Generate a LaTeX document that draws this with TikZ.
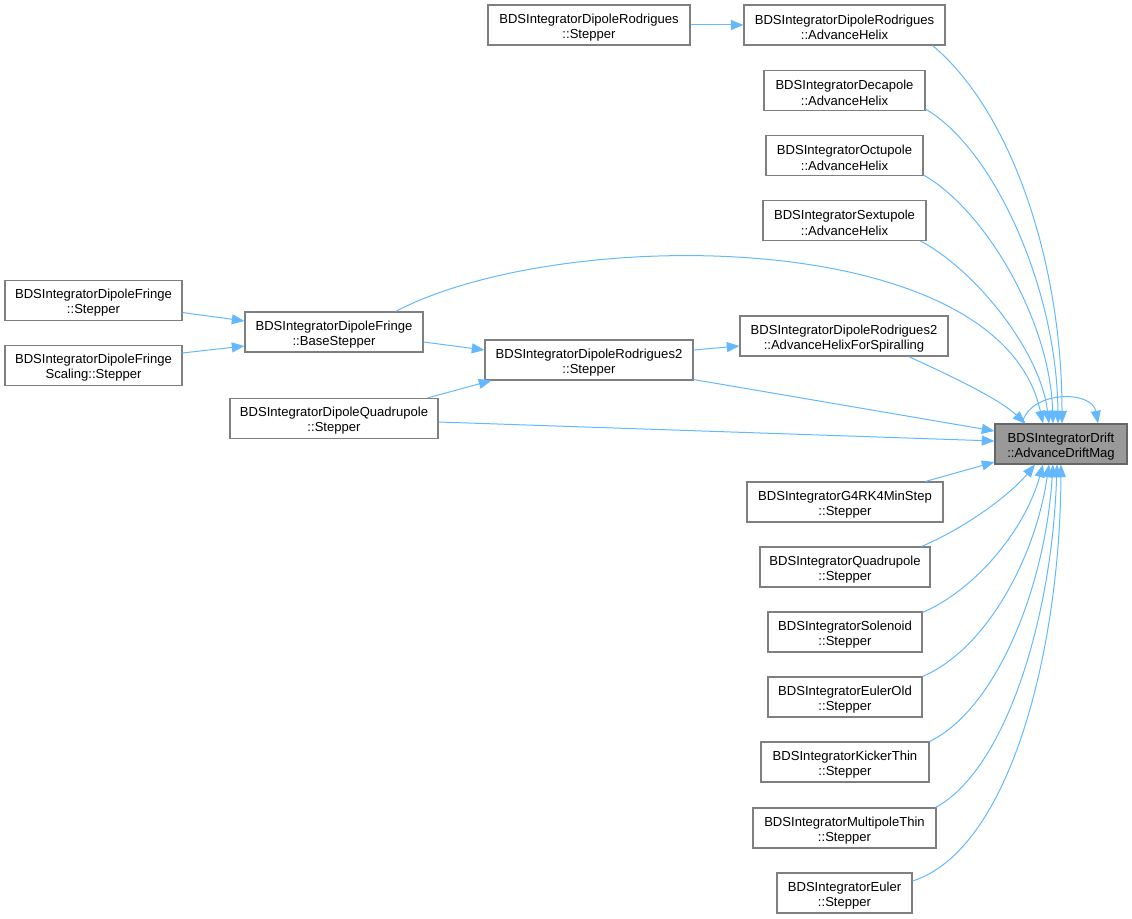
\documentclass[tikz,border=0pt]{standalone}
\usepackage{fontspec}
\setmainfont{Liberation Sans}
\usetikzlibrary{arrows.meta,calc}
\definecolor{edgeblue}{HTML}{63B8FF}
\definecolor{nodeborder}{HTML}{7F7F7F}
\definecolor{mainfill}{HTML}{999999}
\definecolor{mainborder}{HTML}{666666}
\newcommand{\twolines}[2]{\rule{0pt}{10.6pt}#1\\#2}
\begin{document}
\begin{tikzpicture}[x=0.75pt,y=-0.75pt,
  base/.style={line width=0.8pt, minimum height=30pt, inner sep=0pt, align=center,
    font=\fontsize{9.8}{11.3}\selectfont},
  box/.style={base, draw=nodeborder, fill=white, minimum width=#1*0.75pt},
  mainbox/.style={base, draw=mainborder, fill=mainfill, minimum width=#1*0.75pt},
  ed/.style={draw=edgeblue, line width=0.75pt, -{Triangle[length=9.5pt,width=7.5pt]}}]
\useasboundingbox (0,0) rectangle (1132,919);

\node[box=202] (drs) at (589,25) {\twolines{BDSIntegratorDipoleRodrigues}{::Stepper}};
\node[box=201] (drah) at (844.5,25) {\twolines{BDSIntegratorDipoleRodrigues}{::AdvanceHelix}};
\node[box=161] (deca) at (844.5,90.5) {\twolines{BDSIntegratorDecapole}{::AdvanceHelix}};
\node[box=157] (oct) at (844.5,155.5) {\twolines{BDSIntegratorOctupole}{::AdvanceHelix}};
\node[box=163] (sext) at (844.5,220.5) {\twolines{BDSIntegratorSextupole}{::AdvanceHelix}};
\node[box=177] (dfs) at (93.5,300.5) {\twolines{BDSIntegratorDipoleFringe}{::Stepper}};
\node[box=178] (dfbs) at (334,332) {\twolines{BDSIntegratorDipoleFringe}{::BaseStepper}};
\node[box=177] (dfss) at (93.5,365.5) {\twolines{BDSIntegratorDipoleFringe}{Scaling::Stepper}};
\node[box=208] (dr2s) at (589,360) {\twolines{BDSIntegratorDipoleRodrigues2}{::Stepper}};
\node[box=208] (ahfs) at (844,336) {\twolines{BDSIntegratorDipoleRodrigues2}{::AdvanceHelixForSpiralling}};
\node[box=208] (dqs) at (334,418.5) {\twolines{BDSIntegratorDipoleQuadrupole}{::Stepper}};
\node[mainbox=132] (drift) at (1061,444) {\twolines{BDSIntegratorDrift}{::AdvanceDriftMag}};
\node[box=196] (g4) at (845,502) {\twolines{BDSIntegratorG4RK4MinStep}{::Stepper}};
\node[box=170] (quad) at (845,567) {\twolines{BDSIntegratorQuadrupole}{::Stepper}};
\node[box=154] (sol) at (845,632) {\twolines{BDSIntegratorSolenoid}{::Stepper}};
\node[box=154] (eold) at (845,697) {\twolines{BDSIntegratorEulerOld}{::Stepper}};
\node[box=168] (kick) at (845,762) {\twolines{BDSIntegratorKickerThin}{::Stepper}};
\node[box=183] (multi) at (844.5,828) {\twolines{BDSIntegratorMultipoleThin}{::Stepper}};
\node[box=135] (euler) at (844.5,893) {\twolines{BDSIntegratorEuler}{::Stepper}};

% straight edges
\draw[ed] (drs.east) -- (drah.west);
\draw[ed] ($(dfs.east)+(0,12)$) -- ($(dfbs.west)+(0,-11)$);
\draw[ed] ($(dfss.east)+(0,-12.5)$) -- ($(dfbs.west)+(0,14)$);
\draw[ed] ($(dfbs.east)+(0,10)$) -- ($(dr2s.west)+(0,-10)$);
\draw[ed] ($(dqs.north east)+(-11,0)$) -- ($(dr2s.south west)+(7,0)$);
\draw[ed] ($(dr2s.east)+(0,-10)$) -- ($(ahfs.west)+(0,10)$);
\draw[ed] ($(dr2s.south east)+(0,-1)$) -- ($(drift.west)+(0,-13)$);
\draw[ed] ($(dqs.east)+(0,3.5)$) -- ($(drift.west)+(0,-3)$);
\draw[ed] ($(g4.north east)+(-18,0)$) -- ($(drift.west)+(0,18)$);

% curves into the top of the drift node
\draw[ed] ($(ahfs.south east)+(-40,0)$) .. controls (960,380) and (1000,400) .. ($(drift.north west)+(31,0)$);
\draw[ed] ($(dfbs.north east)+(-28,0)$) .. controls (560,225) and (1000,225) .. ($(drift.north)+(-18,0)$);
\draw[ed] ($(drah.south east)+(-13,0)$) .. controls (1010,110) and (1062,260) .. ($(drift.north)+(1,0)$);
\draw[ed] ($(deca.south east)+(0,-2)$) .. controls (995,150) and (1057,290) .. ($(drift.north)+(-3,0)$);
\draw[ed] ($(oct.south east)+(0,-1)$) .. controls (985,210) and (1050,320) .. ($(drift.north)+(-8,0)$);
\draw[ed] ($(sext.south east)+(-6,0)$) .. controls (975,270) and (1040,350) .. ($(drift.north)+(-12,0)$);

% curves into the bottom of the drift node
\draw[ed] ($(quad.north east)+(-9,0)$) .. controls (965,528) and (1010,495) .. ($(drift.south)+(-26,0)$);
\draw[ed] ($(sol.north east)+(0,1)$) .. controls (975,590) and (1025,530) .. ($(drift.south)+(-18,0)$);
\draw[ed] (eold.north east) .. controls (985,650) and (1035,560) .. ($(drift.south)+(-12,0)$);
\draw[ed] (kick.north east) .. controls (995,710) and (1045,590) .. ($(drift.south)+(-8,0)$);
\draw[ed] ($(multi.north east)+(-1,0)$) .. controls (1005,770) and (1052,620) .. ($(drift.south)+(-4,0)$);
\draw[ed] ($(euler.east)+(0,-12)$) .. controls (1010,850) and (1060,650) .. (drift.south);

% self loop
\draw[ed] ($(drift.north)+(-39,0)$) .. controls (1030,390) and (1092,390) .. ($(drift.north)+(37,0)$);
\end{tikzpicture}
\end{document}
